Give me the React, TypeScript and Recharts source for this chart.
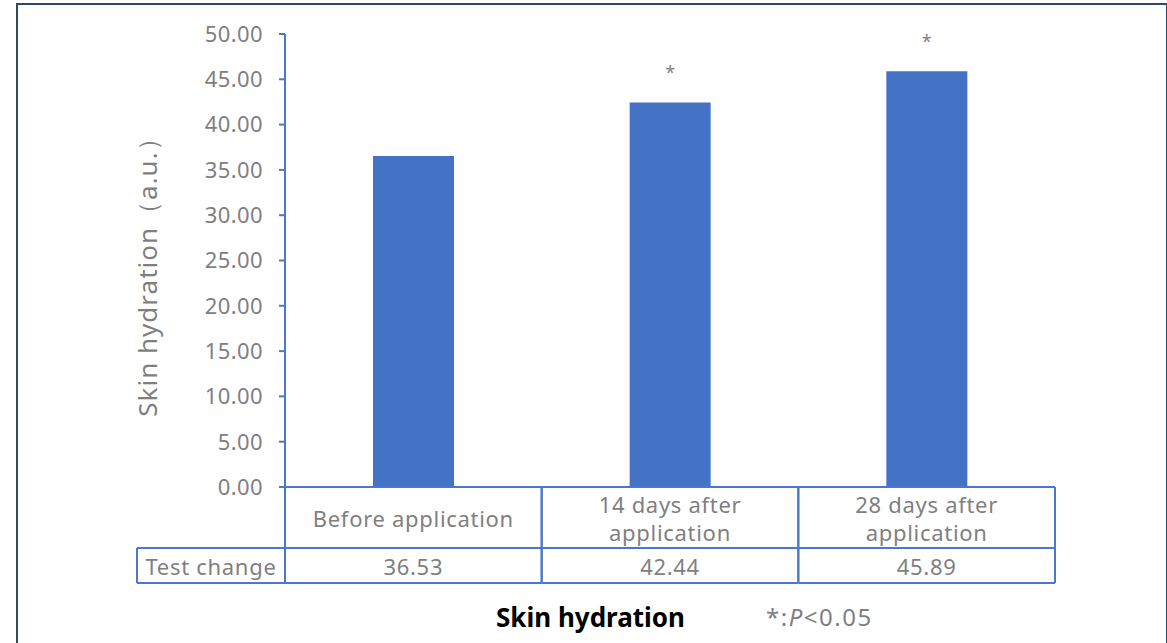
import { BarChart, Bar, XAxis, YAxis, LabelList } from 'recharts';

const categories = ['Before application', '14 days after application', '28 days after application'];
const categoryLines = [['Before application'], ['14 days after', 'application'], ['28 days after', 'application']];
const values = [36.53, 42.44, 45.89];
const significant = [false, true, true];
const yTicks = [0, 5, 10, 15, 20, 25, 30, 35, 40, 45, 50];

const data = categories.map((name, i) => ({ name, value: values[i], sig: significant[i] }));

const W = 1167;
const H = 643;
const BLUE = '#4472C4';
const LINE = '#4A78CE';
const GRAY = '#7F7F7F';
const FONT = '"Noto Sans", sans-serif';
const margin = { top: 34, right: 112, left: 215, bottom: 60 };
const Y_W = 70;
const X_H = 96;
const plotLeft = margin.left + Y_W;
const cellW = (W - plotLeft - margin.right) / categories.length;
const ROW1 = 61;

function TableTick(props: any) {
  const { x, y, payload, index } = props;
  const i = index ?? payload.index;
  const lines = categoryLines[i];
  const x0 = x - cellW / 2;
  const x1 = x + cellW / 2;
  const yTop = y;
  const yMid = y + ROW1;
  const yBot = y + X_H;
  const txt = { fill: GRAY, fontSize: 22, fontFamily: FONT, letterSpacing: 0.7 };
  return (
    <g>
      <line x1={x0} y1={yTop} x2={x0} y2={yBot} stroke={LINE} strokeWidth={2} />
      <line x1={x1} y1={yTop} x2={x1} y2={yBot} stroke={LINE} strokeWidth={2} />
      <line x1={x0} y1={yMid} x2={x1} y2={yMid} stroke={LINE} strokeWidth={2} />
      <line x1={x0} y1={yBot} x2={x1} y2={yBot} stroke={LINE} strokeWidth={2} />
      {i === 0 && (
        <g>
          <line x1={137} y1={yMid} x2={x0} y2={yMid} stroke={LINE} strokeWidth={2} />
          <line x1={137} y1={yBot} x2={x0} y2={yBot} stroke={LINE} strokeWidth={2} />
          <line x1={137} y1={yMid} x2={137} y2={yBot} stroke={LINE} strokeWidth={2} />
          <text x={(137 + x0) / 2} y={yMid + 18} textAnchor="middle" dominantBaseline="central" {...txt}>
            Test change
          </text>
        </g>
      )}
      {lines.map((l, k) => (
        <text
          key={k}
          x={x}
          y={yTop + ROW1 / 2 + (k - (lines.length - 1) / 2) * 28}
          textAnchor="middle"
          dominantBaseline="central"
          {...txt}
        >
          {l}
        </text>
      ))}
      <text x={x} y={yMid + 18} textAnchor="middle" dominantBaseline="central" {...txt}>
        {values[i].toFixed(2)}
      </text>
    </g>
  );
}

function SigLabel(props: any) {
  const { x, y, width, index } = props;
  if (!significant[index]) return null;
  return (
    <text x={x + width / 2} y={y - 30} textAnchor="middle" dominantBaseline="central" fill={GRAY} fontSize={18} fontFamily={FONT}>
      *
    </text>
  );
}

function YLabel(props: any) {
  const { viewBox } = props;
  const cx = viewBox.x - 68;
  const cy = viewBox.y + viewBox.height / 2 + 10;
  return (
    <text
      x={cx}
      y={cy}
      transform={`rotate(-90 ${cx} ${cy})`}
      textAnchor="middle"
      dominantBaseline="central"
      fill={GRAY}
      fontSize={26}
      letterSpacing={1}
      fontFamily={FONT}
    >
      Skin hydration（a.u.）
    </text>
  );
}

export default function App() {
  return (
    <div style={{ position: 'absolute', left: 0, top: 0, width: W, height: H, background: '#fff', overflow: 'hidden' }}>
      <div style={{ position: 'absolute', left: 16, top: 3, width: 1148, height: 660, border: '2px solid #2E4A66', borderBottom: 'none' }} />
      <BarChart width={W} height={H} data={data} margin={margin} barCategoryGap={88}>
        <XAxis
          dataKey="name"
          height={X_H}
          axisLine={{ stroke: LINE, strokeWidth: 2 }}
          tickLine={false}
          tickSize={0}
          tickMargin={0}
          tick={<TableTick />}
          interval={0}
        />
        <YAxis
          width={Y_W}
          domain={[0, 50]}
          ticks={yTicks}
          interval={0}
          tickFormatter={(v: number) => v.toFixed(2)}
          axisLine={{ stroke: LINE, strokeWidth: 2 }}
          tickLine={{ stroke: LINE, strokeWidth: 2 }}
          tickSize={6}
          tickMargin={16}
          tick={{ fill: GRAY, fontSize: 22, fontFamily: FONT, letterSpacing: 0.4 }}
          label={<YLabel />}
        />
        <Bar dataKey="value" fill={BLUE} isAnimationActive={false}>
          <LabelList dataKey="value" content={<SigLabel />} />
        </Bar>
      </BarChart>
      <div style={{ position: 'absolute', left: 0, top: 599, width: W, height: 36, fontFamily: FONT }}>
        <span style={{ position: 'absolute', left: 496, top: 0, fontWeight: 700, fontSize: 26, color: '#000' }}>Skin hydration</span>
        <span style={{ position: 'absolute', left: 766, top: 1, fontSize: 24, letterSpacing: 1.5, color: GRAY }}>
          *:<i>P</i>&lt;0.05
        </span>
      </div>
    </div>
  );
}
